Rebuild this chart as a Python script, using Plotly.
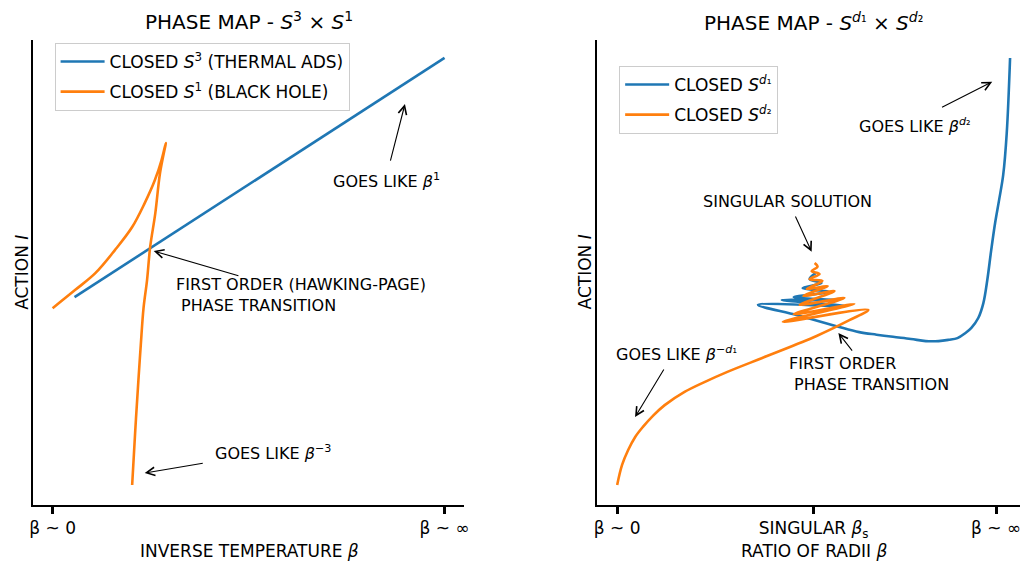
import plotly.graph_objects as go

# ---------------- data: left panel (S^3 x S^1) ----------------
thermal_beta = [0.056, 1.0]
thermal_action = [0.440, 1.0]

bh_beta = [0.000, 0.058, 0.109, 0.159, 0.203, 0.235, 0.261, 0.278, 0.289,
           0.274, 0.262, 0.249, 0.241, 0.232, 0.225, 0.219, 0.211, 0.203]
bh_action = [0.414, 0.457, 0.496, 0.550, 0.604, 0.660, 0.714, 0.761, 0.801,
             0.730, 0.636, 0.558, 0.480, 0.414, 0.328, 0.246, 0.129, 0.000]

left_ticks = [0.0, 1.0]
left_ticktext = ["β ~ 0", "β ~ ∞"]

# ---------------- data: right panel (S^d1 x S^d2) ----------------
sd1_beta = [1.010, 0.980, 1.040, 0.944, 1.076, 0.899, 1.116, 0.838, 1.157, 0.717,
            0.914, 1.116, 1.232, 1.320, 1.404, 1.495, 1.571, 1.636, 1.687, 1.732,
            1.773, 1.803, 1.838, 1.864, 1.884, 1.904, 1.924, 1.944, 1.965, 1.983,
            2.000]
sd1_action = [0.496, 0.482, 0.473, 0.461, 0.452, 0.440, 0.433, 0.433, 0.419, 0.422,
              0.398, 0.372, 0.358, 0.352, 0.347, 0.342, 0.337, 0.337, 0.340, 0.344,
              0.356, 0.368, 0.391, 0.426, 0.480, 0.550, 0.614, 0.667, 0.726, 0.824,
              1.000]

sd2_beta = [0.000, 0.025, 0.056, 0.091, 0.131, 0.182, 0.242, 0.343, 0.444, 0.561,
            0.763, 1.015, 1.182, 1.278, 0.843, 1.207, 0.899, 1.157, 0.929, 1.106,
            0.949, 1.071, 0.965, 1.045, 0.980, 1.030, 0.990, 1.020, 1.005]
sd2_action = [0.000, 0.047, 0.082, 0.112, 0.136, 0.162, 0.187, 0.218, 0.241, 0.265,
              0.302, 0.349, 0.386, 0.410, 0.382, 0.424, 0.400, 0.438, 0.422, 0.454,
              0.443, 0.466, 0.459, 0.478, 0.482, 0.494, 0.501, 0.511, 0.520]

right_ticks = [0.0, 1.0, 1.929]
right_ticktext = ["β ~ 0", "SINGULAR <i>β</i><sub>s</sub>", "β ~ ∞"]

BLUE = "#1f77b4"
ORANGE = "#ff7f0e"
FONT = "DejaVu Sans"
W, H = 1025, 563

fig = go.Figure()

smooth = dict(width=2.6, shape="spline", smoothing=1.0)

fig.add_trace(go.Scatter(x=thermal_beta, y=thermal_action, mode="lines",
                         line=dict(color=BLUE, **smooth),
                         name="CLOSED <i>S</i><sup>3</sup> (THERMAL ADS)",
                         legend="legend", legendgroup="a", xaxis="x", yaxis="y"))
fig.add_trace(go.Scatter(x=bh_beta, y=bh_action, mode="lines",
                         line=dict(color=ORANGE, **smooth),
                         name="CLOSED <i>S</i><sup>1</sup> (BLACK HOLE)",
                         legend="legend", legendgroup="b", xaxis="x", yaxis="y"))
fig.add_trace(go.Scatter(x=sd1_beta, y=sd1_action, mode="lines",
                         line=dict(color=BLUE, **smooth),
                         name="CLOSED <i>S</i><sup><i>d</i>₁</sup>",
                         legend="legend2", legendgroup="c", xaxis="x2", yaxis="y2"))
fig.add_trace(go.Scatter(x=sd2_beta, y=sd2_action, mode="lines",
                         line=dict(color=ORANGE, **smooth),
                         name="CLOSED <i>S</i><sup><i>d</i>₂</sup>",
                         legend="legend2", legendgroup="d", xaxis="x2", yaxis="y2"))


def px_x(p):
    return p / W


def px_y(p):
    return 1 - p / H


axis_common = dict(showline=True, linecolor="black", linewidth=2, showgrid=False,
                   zeroline=False, mirror=False)
tick_font = dict(family=FONT, size=17, color="black")
legend_common = dict(xanchor="left", yanchor="top", bgcolor="rgba(255,255,255,0.8)",
                     bordercolor="#cccccc", borderwidth=1,
                     font=dict(family=FONT, size=17), tracegroupgap=5, itemwidth=44)

fig.update_layout(
    width=W, height=H,
    margin=dict(l=0, r=0, t=0, b=0),
    paper_bgcolor="white", plot_bgcolor="white",
    font=dict(family=FONT, color="black"),
    xaxis=dict(domain=[px_x(30), px_x(465)], range=[-0.0506, 1.0506],
               tickvals=left_ticks, ticktext=left_ticktext, ticks="outside",
               ticklen=7, tickwidth=3, tickcolor="black", tickfont=tick_font,
               anchor="y", **axis_common),
    yaxis=dict(domain=[px_y(505), px_y(40)], range=[-0.0468, 1.042],
               showticklabels=False, ticks="", anchor="x", **axis_common),
    xaxis2=dict(domain=[px_x(599), 1.0], range=[-0.101, 2.0505],
                tickvals=right_ticks, ticktext=right_ticktext, ticks="outside",
                ticklen=7, tickwidth=3, tickcolor="black", tickfont=tick_font,
                anchor="y2", **axis_common),
    yaxis2=dict(domain=[px_y(505), px_y(40)], range=[-0.0468, 1.042],
                showticklabels=False, ticks="", anchor="x2", **axis_common),
    legend=dict(x=px_x(52), y=px_y(43), **legend_common),
    legend2=dict(x=px_x(621), y=px_y(66), **legend_common),
    showlegend=True,
)

annotations = []

# titles and axis labels (paper coordinates)
paper_text = [
    ("PHASE MAP - <i>S</i><sup>3</sup> × <i>S</i><sup>1</sup>", 248, 21, 20, 0),
    ("PHASE MAP - <i>S</i><sup><i>d</i>₁</sup> × <i>S</i><sup><i>d</i>₂</sup>", 817, 22, 20, 0),
    ("INVERSE TEMPERATURE <i>β</i>", 248, 551, 17, 0),
    ("RATIO OF RADII <i>β</i>", 817, 551, 17, 0),
    ("ACTION <i>I</i>", 19, 272, 17, -90),
    ("ACTION <i>I</i>", 587, 272, 17, -90),
]
for txt, x, y, size, ang in paper_text:
    annotations.append(dict(text=txt, x=px_x(x), y=px_y(y), xref="paper", yref="paper",
                            xanchor="center", yanchor="middle", showarrow=False,
                            textangle=ang, font=dict(family=FONT, size=size)))

# in-plot notes: (text, x, y, xanchor, axis suffix)
notes = [
    ("GOES LIKE <i>β</i><sup>1</sup>", 0.851, 0.714, "center", ""),
    ("FIRST ORDER (HAWKING-PAGE)<br>\u00a0PHASE TRANSITION", 0.309, 0.444, "left", ""),
    ("GOES LIKE <i>β</i><sup>−3</sup>", 0.563, 0.075, "center", ""),
    ("GOES LIKE <i>β</i><sup><i>d</i>₂</sup>", 1.518, 0.841, "center", "2"),
    ("SINGULAR SOLUTION", 0.869, 0.663, "center", "2"),
    ("FIRST ORDER<br>\u00a0PHASE TRANSITION", 0.864, 0.261, "left", "2"),
    ("GOES LIKE <i>β</i><sup>−<i>d</i>₁</sup>", 0.3005, 0.309, "center", "2"),
]
for txt, x, y, xa, ax in notes:
    annotations.append(dict(text=txt, x=x, y=y, xref="x" + ax, yref="y" + ax,
                            xanchor=xa, yanchor="middle", align="left", showarrow=False,
                            font=dict(family=FONT, size=16)))

# arrows: (head x, head y, tail x, tail y, axis suffix)
arrows = [
    (0.899, 0.892, 0.861, 0.756, ""),
    (0.258, 0.548, 0.478, 0.489, ""),
    (0.235, 0.028, 0.387, 0.0515, ""),
    (1.909, 0.944, 1.646, 0.883, "2"),
    (0.990, 0.546, 0.904, 0.632, "2"),
    (1.126, 0.356, 1.202, 0.311, "2"),
    (0.091, 0.159, 0.242, 0.274, "2"),
]
for hx, hy, tx, ty, ax in arrows:
    annotations.append(dict(text="", x=hx, y=hy, ax=tx, ay=ty,
                            xref="x" + ax, yref="y" + ax, axref="x" + ax, ayref="y" + ax,
                            showarrow=True, arrowhead=5, arrowsize=1.5, arrowwidth=1.1,
                            arrowcolor="black"))

fig.update_layout(annotations=annotations)

fig.write_html("out.html")
